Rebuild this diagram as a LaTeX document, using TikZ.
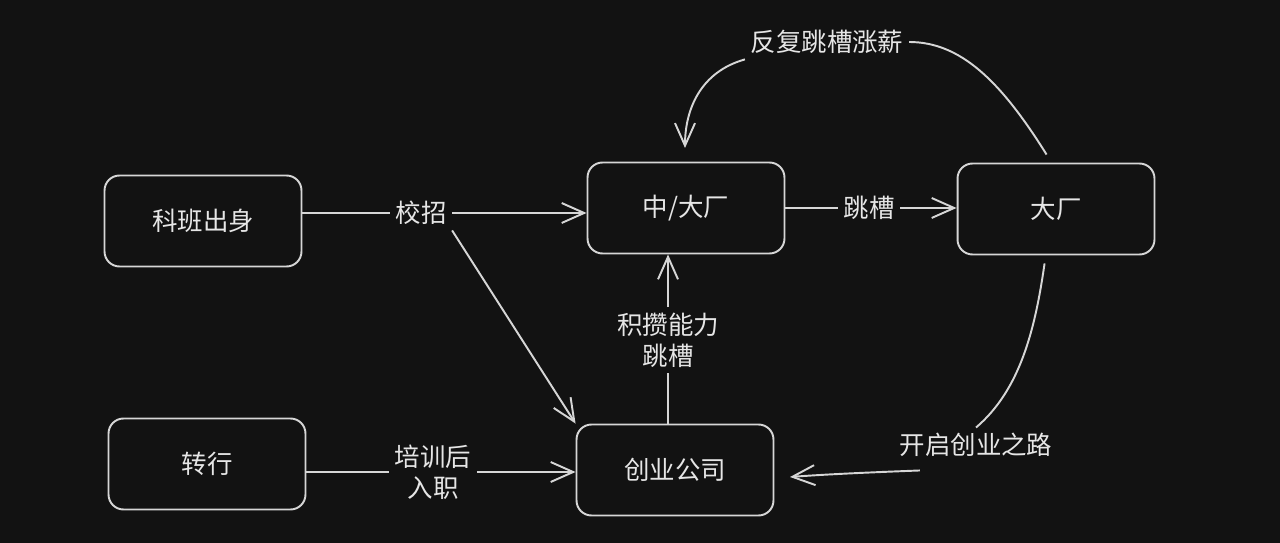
\documentclass[tikz,border=0pt]{standalone}
\usepackage{fontspec}
\setmainfont{Noto Sans CJK SC}
\usepackage{xcolor}
\usepackage{tikz}
\usetikzlibrary{positioning,arrows.meta}

\definecolor{bgdark}{HTML}{121212}
\definecolor{inkline}{HTML}{D6D6D6}
\definecolor{inktext}{HTML}{E6E6E6}

\begin{document}
\begin{tikzpicture}[x=0.02cm,y=-0.02cm,
  box/.style={draw=inkline, line width=1.1pt, rounded corners=0.3cm,
    minimum width=3.94cm, minimum height=1.82cm, text=inktext,
    font=\fontsize{14.5pt}{17.5pt}\selectfont},
  lbl/.style={text=inktext, align=center, inner sep=3pt,
    font=\fontsize{14.5pt}{17.5pt}\selectfont},
  link/.style={draw=inkline, line width=1.1pt},
  arr/.style={link, -{Straight Barb[length=4.5mm,width=4mm]}}]
% background and margins
\fill[bgdark] (0,0) rectangle (1280,543);
\useasboundingbox (0,0) rectangle (1280,543);

% boxes
\node[box] (kb) at (203,221) {科班出身};
\node[box] (zh) at (207,464) {转行};
\node[box] (zd) at (686,208) {中/大厂};
\node[box] (dc) at (1056,209) {大厂};
\node[box] (cy) at (675,470) {创业公司};

% labels on the lines
\node[lbl] (xz) at (421,213) {校招};
\node[lbl] (tc) at (869,208) {跳槽};
\node[lbl] (ff) at (827,42) {反复跳槽涨薪};
\node[lbl] (jl) at (668,340) {积攒能力\\跳槽};
\node[lbl] (px) at (433,472) {培训后\\入职};
\node[lbl] (kq) at (976,445) {开启创业之路};

\coordinate (ffin) at (685,148);
\coordinate (cyin) at (790,477);

% links
\draw[link] (kb.east |- xz) -- (xz.west);
\draw[arr] (xz.east) -- (zd.west |- xz);
\draw[arr] (xz.south east) -- (cy.north west);
\draw[link] (zh.east |- px) -- (px.west);
\draw[arr] (px.east) -- (cy.west |- px);
\draw[link] (cy.north -| jl) -- (jl.south);
\draw[arr] (jl.north) -- (zd.south -| jl);
\draw[link] (zd.east |- tc) -- (tc.west);
\draw[arr] (tc.east) -- (dc.west |- tc);
\draw[link] (dc.north west) ++(90,-8) .. controls (1000,80) and (960,42) .. (ff.east);
\draw[arr] (ff.south west) .. controls (700,72) and (685,110) .. (ffin);
\draw[link] (dc.south west) ++(88,8) .. controls (1035,330) and (1020,390) .. (kq.north);
\draw[arr] (kq.south west) ++(26,8) .. controls (880,472) and (830,474) .. (cyin);
\end{tikzpicture}
\end{document}
